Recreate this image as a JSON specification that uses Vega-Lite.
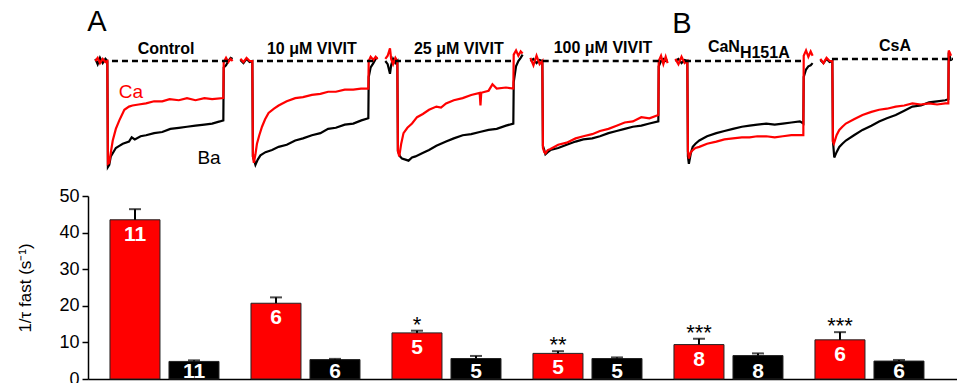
{
"$schema":"https://vega.github.io/schema/vega-lite/v6.json",
"padding":{"left":16,"top":0,"right":0,"bottom":0},
"background":"white",
"config":{"view":{"stroke":null},"font":"Liberation Sans","axisY":{"labelOverlap":false,"values":[0,10,20,30,40,50],"grid":false,"domainColor":"black","domainWidth":1.5,"tickColor":"black","tickWidth":1.5,"tickSize":6,"labelFontSize":18,"labelColor":"black","labelPadding":3,"titleFontSize":17,"titleFontWeight":"normal","titleColor":"black","titlePadding":24}},
"spacing":15,
"datasets":{
"tr":[
{"p":1,"i":"Ba","t":-32,"v":0.02},{"p":1,"i":"Ba","t":-26,"v":-0.03},{"p":1,"i":"Ba","t":-20,"v":0.03},{"p":1,"i":"Ba","t":-13,"v":-0.02},{"p":1,"i":"Ba","t":-6,"v":0.02},{"p":1,"i":"Ba","t":-1,"v":0},{"p":1,"i":"Ba","t":0.5,"v":-1.0},{"p":1,"i":"Ba","t":4,"v":-0.98},{"p":1,"i":"Ba","t":8,"v":-0.9},{"p":1,"i":"Ba","t":13,"v":-0.87},{"p":1,"i":"Ba","t":21,"v":-0.82},{"p":1,"i":"Ba","t":30,"v":-0.8},{"p":1,"i":"Ba","t":39,"v":-0.78},{"p":1,"i":"Ba","t":55,"v":-0.76},{"p":1,"i":"Ba","t":62,"v":-0.72},{"p":1,"i":"Ba","t":70,"v":-0.74},{"p":1,"i":"Ba","t":85,"v":-0.71},{"p":1,"i":"Ba","t":99,"v":-0.7},{"p":1,"i":"Ba","t":120,"v":-0.68},{"p":1,"i":"Ba","t":141,"v":-0.67},{"p":1,"i":"Ba","t":162,"v":-0.64},{"p":1,"i":"Ba","t":184,"v":-0.63},{"p":1,"i":"Ba","t":205,"v":-0.62},{"p":1,"i":"Ba","t":227,"v":-0.61},{"p":1,"i":"Ba","t":250,"v":-0.6},{"p":1,"i":"Ba","t":270,"v":-0.59},{"p":1,"i":"Ba","t":290,"v":-0.57},{"p":1,"i":"Ba","t":299,"v":-0.56},{"p":1,"i":"Ba","t":300,"v":-0.06},{"p":1,"i":"Ba","t":306,"v":-0.04},{"p":1,"i":"Ba","t":312,"v":0.0},{"p":1,"i":"Ba","t":318,"v":0.03},{"p":1,"i":"Ba","t":323,"v":0.02},
{"p":1,"i":"Ca","t":-32,"v":0.0},{"p":1,"i":"Ca","t":-26,"v":0.03},{"p":1,"i":"Ca","t":-20,"v":-0.02},{"p":1,"i":"Ca","t":-13,"v":0.02},{"p":1,"i":"Ca","t":-6,"v":-0.01},{"p":1,"i":"Ca","t":-1,"v":0},{"p":1,"i":"Ca","t":0.5,"v":-0.97},{"p":1,"i":"Ca","t":4,"v":-0.96},{"p":1,"i":"Ca","t":9,"v":-0.84},{"p":1,"i":"Ca","t":13,"v":-0.75},{"p":1,"i":"Ca","t":21,"v":-0.64},{"p":1,"i":"Ca","t":30,"v":-0.56},{"p":1,"i":"Ca","t":43,"v":-0.46},{"p":1,"i":"Ca","t":55,"v":-0.43},{"p":1,"i":"Ca","t":64,"v":-0.42},{"p":1,"i":"Ca","t":80,"v":-0.41},{"p":1,"i":"Ca","t":99,"v":-0.4},{"p":1,"i":"Ca","t":120,"v":-0.38},{"p":1,"i":"Ca","t":141,"v":-0.38},{"p":1,"i":"Ca","t":160,"v":-0.36},{"p":1,"i":"Ca","t":184,"v":-0.37},{"p":1,"i":"Ca","t":205,"v":-0.35},{"p":1,"i":"Ca","t":227,"v":-0.37},{"p":1,"i":"Ca","t":250,"v":-0.35},{"p":1,"i":"Ca","t":270,"v":-0.36},{"p":1,"i":"Ca","t":299,"v":-0.35},{"p":1,"i":"Ca","t":300,"v":-0.01},{"p":1,"i":"Ca","t":306,"v":0.03},{"p":1,"i":"Ca","t":312,"v":-0.01},{"p":1,"i":"Ca","t":318,"v":0.02},{"p":1,"i":"Ca","t":323,"v":0.0},
{"p":2,"i":"Ba","t":-32,"v":0.01},{"p":2,"i":"Ba","t":-24,"v":-0.02},{"p":2,"i":"Ba","t":-16,"v":0.02},{"p":2,"i":"Ba","t":-8,"v":-0.01},{"p":2,"i":"Ba","t":-1,"v":0},{"p":2,"i":"Ba","t":0.5,"v":-0.9},{"p":2,"i":"Ba","t":7,"v":-0.98},{"p":2,"i":"Ba","t":13,"v":-0.93},{"p":2,"i":"Ba","t":20,"v":-0.89},{"p":2,"i":"Ba","t":33,"v":-0.86},{"p":2,"i":"Ba","t":50,"v":-0.84},{"p":2,"i":"Ba","t":67,"v":-0.81},{"p":2,"i":"Ba","t":88,"v":-0.79},{"p":2,"i":"Ba","t":110,"v":-0.75},{"p":2,"i":"Ba","t":130,"v":-0.73},{"p":2,"i":"Ba","t":153,"v":-0.7},{"p":2,"i":"Ba","t":175,"v":-0.68},{"p":2,"i":"Ba","t":195,"v":-0.64},{"p":2,"i":"Ba","t":215,"v":-0.63},{"p":2,"i":"Ba","t":238,"v":-0.6},{"p":2,"i":"Ba","t":260,"v":-0.59},{"p":2,"i":"Ba","t":281,"v":-0.56},{"p":2,"i":"Ba","t":299,"v":-0.54},{"p":2,"i":"Ba","t":300,"v":-0.15},{"p":2,"i":"Ba","t":305,"v":-0.06},{"p":2,"i":"Ba","t":312,"v":-0.02},{"p":2,"i":"Ba","t":318,"v":0.02},{"p":2,"i":"Ba","t":323,"v":0.03},
{"p":2,"i":"Ca","t":-32,"v":0.02},{"p":2,"i":"Ca","t":-24,"v":-0.01},{"p":2,"i":"Ca","t":-16,"v":0.03},{"p":2,"i":"Ca","t":-8,"v":0.0},{"p":2,"i":"Ca","t":-1,"v":0},{"p":2,"i":"Ca","t":0.5,"v":-0.9},{"p":2,"i":"Ca","t":3,"v":-0.96},{"p":2,"i":"Ca","t":7,"v":-0.88},{"p":2,"i":"Ca","t":11,"v":-0.78},{"p":2,"i":"Ca","t":17,"v":-0.7},{"p":2,"i":"Ca","t":24,"v":-0.62},{"p":2,"i":"Ca","t":32,"v":-0.55},{"p":2,"i":"Ca","t":41,"v":-0.49},{"p":2,"i":"Ca","t":55,"v":-0.45},{"p":2,"i":"Ca","t":67,"v":-0.42},{"p":2,"i":"Ca","t":88,"v":-0.38},{"p":2,"i":"Ca","t":110,"v":-0.35},{"p":2,"i":"Ca","t":130,"v":-0.34},{"p":2,"i":"Ca","t":153,"v":-0.32},{"p":2,"i":"Ca","t":175,"v":-0.31},{"p":2,"i":"Ca","t":195,"v":-0.29},{"p":2,"i":"Ca","t":215,"v":-0.29},{"p":2,"i":"Ca","t":238,"v":-0.27},{"p":2,"i":"Ca","t":260,"v":-0.27},{"p":2,"i":"Ca","t":280,"v":-0.26},{"p":2,"i":"Ca","t":299,"v":-0.26},{"p":2,"i":"Ca","t":300,"v":0.0},{"p":2,"i":"Ca","t":305,"v":0.04},{"p":2,"i":"Ca","t":312,"v":0.01},{"p":2,"i":"Ca","t":318,"v":0.04},{"p":2,"i":"Ca","t":323,"v":0.02},
{"p":3,"i":"Ba","t":-32,"v":0.0},{"p":3,"i":"Ba","t":-26,"v":-0.03},{"p":3,"i":"Ba","t":-20,"v":-0.12},{"p":3,"i":"Ba","t":-17,"v":-0.04},{"p":3,"i":"Ba","t":-12,"v":0.02},{"p":3,"i":"Ba","t":-6,"v":-0.02},{"p":3,"i":"Ba","t":-1,"v":0},{"p":3,"i":"Ba","t":0.5,"v":-0.85},{"p":3,"i":"Ba","t":6,"v":-0.9},{"p":3,"i":"Ba","t":11,"v":-0.92},{"p":3,"i":"Ba","t":20,"v":-0.93},{"p":3,"i":"Ba","t":28,"v":-0.94},{"p":3,"i":"Ba","t":37,"v":-0.91},{"p":3,"i":"Ba","t":46,"v":-0.9},{"p":3,"i":"Ba","t":63,"v":-0.87},{"p":3,"i":"Ba","t":81,"v":-0.84},{"p":3,"i":"Ba","t":100,"v":-0.8},{"p":3,"i":"Ba","t":125,"v":-0.76},{"p":3,"i":"Ba","t":145,"v":-0.73},{"p":3,"i":"Ba","t":168,"v":-0.7},{"p":3,"i":"Ba","t":190,"v":-0.69},{"p":3,"i":"Ba","t":212,"v":-0.67},{"p":3,"i":"Ba","t":235,"v":-0.65},{"p":3,"i":"Ba","t":256,"v":-0.64},{"p":3,"i":"Ba","t":280,"v":-0.61},{"p":3,"i":"Ba","t":299,"v":-0.59},{"p":3,"i":"Ba","t":300,"v":-0.2},{"p":3,"i":"Ba","t":306,"v":-0.05},{"p":3,"i":"Ba","t":312,"v":0.0},{"p":3,"i":"Ba","t":318,"v":0.03},{"p":3,"i":"Ba","t":323,"v":0.06},
{"p":3,"i":"Ca","t":-32,"v":0.02},{"p":3,"i":"Ca","t":-26,"v":0.05},{"p":3,"i":"Ca","t":-20,"v":0.12},{"p":3,"i":"Ca","t":-17,"v":0.02},{"p":3,"i":"Ca","t":-12,"v":-0.03},{"p":3,"i":"Ca","t":-6,"v":0.03},{"p":3,"i":"Ca","t":-1,"v":0},{"p":3,"i":"Ca","t":0.5,"v":-0.85},{"p":3,"i":"Ca","t":4,"v":-0.9},{"p":3,"i":"Ca","t":9,"v":-0.78},{"p":3,"i":"Ca","t":15,"v":-0.68},{"p":3,"i":"Ca","t":25,"v":-0.63},{"p":3,"i":"Ca","t":37,"v":-0.59},{"p":3,"i":"Ca","t":50,"v":-0.53},{"p":3,"i":"Ca","t":65,"v":-0.5},{"p":3,"i":"Ca","t":81,"v":-0.46},{"p":3,"i":"Ca","t":100,"v":-0.43},{"p":3,"i":"Ca","t":112,"v":-0.44},{"p":3,"i":"Ca","t":125,"v":-0.4},{"p":3,"i":"Ca","t":145,"v":-0.37},{"p":3,"i":"Ca","t":168,"v":-0.35},{"p":3,"i":"Ca","t":190,"v":-0.32},{"p":3,"i":"Ca","t":212,"v":-0.3},{"p":3,"i":"Ca","t":214,"v":-0.42},{"p":3,"i":"Ca","t":216,"v":-0.3},{"p":3,"i":"Ca","t":235,"v":-0.28},{"p":3,"i":"Ca","t":245,"v":-0.22},{"p":3,"i":"Ca","t":256,"v":-0.26},{"p":3,"i":"Ca","t":280,"v":-0.25},{"p":3,"i":"Ca","t":299,"v":-0.26},{"p":3,"i":"Ca","t":300,"v":0.06},{"p":3,"i":"Ca","t":306,"v":0.1},{"p":3,"i":"Ca","t":312,"v":0.05},{"p":3,"i":"Ca","t":318,"v":0.09},{"p":3,"i":"Ca","t":323,"v":0.07},
{"p":4,"i":"Ba","t":-32,"v":0.0},{"p":4,"i":"Ba","t":-24,"v":0.02},{"p":4,"i":"Ba","t":-16,"v":-0.02},{"p":4,"i":"Ba","t":-8,"v":0.01},{"p":4,"i":"Ba","t":-1,"v":0},{"p":4,"i":"Ba","t":0.5,"v":-0.8},{"p":4,"i":"Ba","t":4,"v":-0.84},{"p":4,"i":"Ba","t":7,"v":-0.88},{"p":4,"i":"Ba","t":13,"v":-0.86},{"p":4,"i":"Ba","t":20,"v":-0.84},{"p":4,"i":"Ba","t":40,"v":-0.82},{"p":4,"i":"Ba","t":62,"v":-0.79},{"p":4,"i":"Ba","t":85,"v":-0.76},{"p":4,"i":"Ba","t":105,"v":-0.74},{"p":4,"i":"Ba","t":128,"v":-0.73},{"p":4,"i":"Ba","t":148,"v":-0.71},{"p":4,"i":"Ba","t":170,"v":-0.68},{"p":4,"i":"Ba","t":191,"v":-0.66},{"p":4,"i":"Ba","t":212,"v":-0.64},{"p":4,"i":"Ba","t":233,"v":-0.62},{"p":4,"i":"Ba","t":255,"v":-0.61},{"p":4,"i":"Ba","t":276,"v":-0.59},{"p":4,"i":"Ba","t":299,"v":-0.57},{"p":4,"i":"Ba","t":300,"v":-0.05},{"p":4,"i":"Ba","t":306,"v":0.0},{"p":4,"i":"Ba","t":312,"v":0.02},{"p":4,"i":"Ba","t":318,"v":0.0},{"p":4,"i":"Ba","t":323,"v":0.01},
{"p":4,"i":"Ca","t":-32,"v":0.03},{"p":4,"i":"Ca","t":-24,"v":-0.04},{"p":4,"i":"Ca","t":-16,"v":0.05},{"p":4,"i":"Ca","t":-8,"v":-0.03},{"p":4,"i":"Ca","t":-1,"v":0},{"p":4,"i":"Ca","t":0.5,"v":-0.82},{"p":4,"i":"Ca","t":4,"v":-0.86},{"p":4,"i":"Ca","t":7,"v":-0.87},{"p":4,"i":"Ca","t":13,"v":-0.84},{"p":4,"i":"Ca","t":20,"v":-0.83},{"p":4,"i":"Ca","t":40,"v":-0.79},{"p":4,"i":"Ca","t":62,"v":-0.77},{"p":4,"i":"Ca","t":85,"v":-0.73},{"p":4,"i":"Ca","t":105,"v":-0.71},{"p":4,"i":"Ca","t":128,"v":-0.69},{"p":4,"i":"Ca","t":148,"v":-0.66},{"p":4,"i":"Ca","t":170,"v":-0.64},{"p":4,"i":"Ca","t":191,"v":-0.61},{"p":4,"i":"Ca","t":212,"v":-0.58},{"p":4,"i":"Ca","t":233,"v":-0.57},{"p":4,"i":"Ca","t":255,"v":-0.53},{"p":4,"i":"Ca","t":276,"v":-0.54},{"p":4,"i":"Ca","t":299,"v":-0.51},{"p":4,"i":"Ca","t":300,"v":0.0},{"p":4,"i":"Ca","t":306,"v":0.05},{"p":4,"i":"Ca","t":312,"v":-0.03},{"p":4,"i":"Ca","t":318,"v":0.04},{"p":4,"i":"Ca","t":323,"v":-0.02},
{"p":5,"i":"Ba","t":-32,"v":0.0},{"p":5,"i":"Ba","t":-24,"v":0.02},{"p":5,"i":"Ba","t":-16,"v":-0.02},{"p":5,"i":"Ba","t":-8,"v":0.01},{"p":5,"i":"Ba","t":-1,"v":0},{"p":5,"i":"Ba","t":0.5,"v":-0.9},{"p":5,"i":"Ba","t":3,"v":-0.97},{"p":5,"i":"Ba","t":8,"v":-0.87},{"p":5,"i":"Ba","t":13,"v":-0.81},{"p":5,"i":"Ba","t":20,"v":-0.78},{"p":5,"i":"Ba","t":30,"v":-0.75},{"p":5,"i":"Ba","t":50,"v":-0.71},{"p":5,"i":"Ba","t":74,"v":-0.68},{"p":5,"i":"Ba","t":95,"v":-0.66},{"p":5,"i":"Ba","t":117,"v":-0.64},{"p":5,"i":"Ba","t":140,"v":-0.62},{"p":5,"i":"Ba","t":160,"v":-0.61},{"p":5,"i":"Ba","t":180,"v":-0.6},{"p":5,"i":"Ba","t":203,"v":-0.59},{"p":5,"i":"Ba","t":225,"v":-0.6},{"p":5,"i":"Ba","t":246,"v":-0.59},{"p":5,"i":"Ba","t":268,"v":-0.58},{"p":5,"i":"Ba","t":290,"v":-0.57},{"p":5,"i":"Ba","t":299,"v":-0.59},{"p":5,"i":"Ba","t":300,"v":-0.15},{"p":5,"i":"Ba","t":306,"v":-0.08},{"p":5,"i":"Ba","t":312,"v":-0.05},{"p":5,"i":"Ba","t":318,"v":-0.04},{"p":5,"i":"Ba","t":323,"v":-0.02},
{"p":5,"i":"Ca","t":-32,"v":0.02},{"p":5,"i":"Ca","t":-24,"v":-0.03},{"p":5,"i":"Ca","t":-16,"v":0.04},{"p":5,"i":"Ca","t":-8,"v":-0.02},{"p":5,"i":"Ca","t":-1,"v":0},{"p":5,"i":"Ca","t":0.5,"v":-0.85},{"p":5,"i":"Ca","t":3,"v":-0.92},{"p":5,"i":"Ca","t":8,"v":-0.86},{"p":5,"i":"Ca","t":13,"v":-0.84},{"p":5,"i":"Ca","t":20,"v":-0.82},{"p":5,"i":"Ca","t":30,"v":-0.81},{"p":5,"i":"Ca","t":50,"v":-0.78},{"p":5,"i":"Ca","t":74,"v":-0.76},{"p":5,"i":"Ca","t":95,"v":-0.74},{"p":5,"i":"Ca","t":117,"v":-0.73},{"p":5,"i":"Ca","t":140,"v":-0.72},{"p":5,"i":"Ca","t":160,"v":-0.72},{"p":5,"i":"Ca","t":180,"v":-0.71},{"p":5,"i":"Ca","t":203,"v":-0.71},{"p":5,"i":"Ca","t":225,"v":-0.72},{"p":5,"i":"Ca","t":246,"v":-0.71},{"p":5,"i":"Ca","t":268,"v":-0.7},{"p":5,"i":"Ca","t":290,"v":-0.7},{"p":5,"i":"Ca","t":299,"v":-0.7},{"p":5,"i":"Ca","t":300,"v":0.05},{"p":5,"i":"Ca","t":306,"v":0.1},{"p":5,"i":"Ca","t":312,"v":0.04},{"p":5,"i":"Ca","t":318,"v":0.09},{"p":5,"i":"Ca","t":323,"v":0.05},
{"p":6,"i":"Ba","t":-32,"v":0.01},{"p":6,"i":"Ba","t":-24,"v":-0.02},{"p":6,"i":"Ba","t":-16,"v":0.02},{"p":6,"i":"Ba","t":-8,"v":-0.01},{"p":6,"i":"Ba","t":-1,"v":0},{"p":6,"i":"Ba","t":0.5,"v":-0.75},{"p":6,"i":"Ba","t":4,"v":-0.91},{"p":6,"i":"Ba","t":10,"v":-0.86},{"p":6,"i":"Ba","t":17,"v":-0.81},{"p":6,"i":"Ba","t":25,"v":-0.78},{"p":6,"i":"Ba","t":34,"v":-0.75},{"p":6,"i":"Ba","t":55,"v":-0.7},{"p":6,"i":"Ba","t":77,"v":-0.65},{"p":6,"i":"Ba","t":100,"v":-0.61},{"p":6,"i":"Ba","t":120,"v":-0.57},{"p":6,"i":"Ba","t":140,"v":-0.54},{"p":6,"i":"Ba","t":163,"v":-0.51},{"p":6,"i":"Ba","t":185,"v":-0.47},{"p":6,"i":"Ba","t":206,"v":-0.43},{"p":6,"i":"Ba","t":228,"v":-0.42},{"p":6,"i":"Ba","t":249,"v":-0.39},{"p":6,"i":"Ba","t":270,"v":-0.38},{"p":6,"i":"Ba","t":291,"v":-0.37},{"p":6,"i":"Ba","t":299,"v":-0.36},{"p":6,"i":"Ba","t":300,"v":0.08},{"p":6,"i":"Ba","t":306,"v":0.0},
{"p":6,"i":"Ca","t":-32,"v":0.02},{"p":6,"i":"Ca","t":-24,"v":-0.02},{"p":6,"i":"Ca","t":-16,"v":0.03},{"p":6,"i":"Ca","t":-8,"v":0.0},{"p":6,"i":"Ca","t":-1,"v":0},{"p":6,"i":"Ca","t":0.5,"v":-0.76},{"p":6,"i":"Ca","t":3,"v":-0.78},{"p":6,"i":"Ca","t":10,"v":-0.7},{"p":6,"i":"Ca","t":17,"v":-0.65},{"p":6,"i":"Ca","t":25,"v":-0.62},{"p":6,"i":"Ca","t":34,"v":-0.59},{"p":6,"i":"Ca","t":55,"v":-0.55},{"p":6,"i":"Ca","t":77,"v":-0.51},{"p":6,"i":"Ca","t":100,"v":-0.48},{"p":6,"i":"Ca","t":120,"v":-0.46},{"p":6,"i":"Ca","t":140,"v":-0.45},{"p":6,"i":"Ca","t":163,"v":-0.43},{"p":6,"i":"Ca","t":185,"v":-0.42},{"p":6,"i":"Ca","t":206,"v":-0.4},{"p":6,"i":"Ca","t":228,"v":-0.41},{"p":6,"i":"Ca","t":249,"v":-0.4},{"p":6,"i":"Ca","t":270,"v":-0.41},{"p":6,"i":"Ca","t":291,"v":-0.4},{"p":6,"i":"Ca","t":299,"v":-0.4},{"p":6,"i":"Ca","t":300,"v":0.1},{"p":6,"i":"Ca","t":306,"v":0.05}
],
"bars":[
{"cond":"Control","ion":"Ca","v":43.5,"hi":46.4,"n":"11","sig":""},
{"cond":"Control","ion":"Ba","v":4.8,"hi":5.1,"n":"11","sig":""},
{"cond":"10 μM VIVIT","ion":"Ca","v":20.7,"hi":22.3,"n":"6","sig":""},
{"cond":"10 μM VIVIT","ion":"Ba","v":5.3,"hi":5.5,"n":"6","sig":""},
{"cond":"25 μM VIVIT","ion":"Ca","v":12.6,"hi":13.2,"n":"5","sig":"*"},
{"cond":"25 μM VIVIT","ion":"Ba","v":5.6,"hi":6.3,"n":"5","sig":""},
{"cond":"100 μM VIVIT","ion":"Ca","v":7.0,"hi":7.6,"n":"5","sig":"**"},
{"cond":"100 μM VIVIT","ion":"Ba","v":5.6,"hi":5.9,"n":"5","sig":""},
{"cond":"CaN H151A","ion":"Ca","v":9.4,"hi":11.0,"n":"8","sig":"***"},
{"cond":"CaN H151A","ion":"Ba","v":6.4,"hi":7.0,"n":"8","sig":""},
{"cond":"CsA","ion":"Ca","v":10.7,"hi":12.8,"n":"6","sig":"***"},
{"cond":"CsA","ion":"Ba","v":4.9,"hi":5.2,"n":"6","sig":""}
]
},
"vconcat":[
{"spacing":0,"bounds":"flush","hconcat":[
{"width":145,"height":172,"layer":[
 {"data":{"name":"tr"},"transform":[{"filter":"datum.p==1"}],"mark":{"type":"line","strokeWidth":2.2},"encoding":{"x":{"field":"t","type":"quantitative","scale":{"domain":[-51,324],"nice":false,"zero":false},"axis":null},"y":{"field":"v","type":"quantitative","scale":{"domain":[-1.047,0.5755],"nice":false,"zero":false},"axis":null},"color":{"field":"i","type":"nominal","scale":{"domain":["Ca","Ba"],"range":["#ff0000","#000000"]},"legend":null}}},
 {"data":{"values":[{}]},"mark":{"type":"rule","strokeDash":[6,4],"strokeWidth":2.5,"color":"black"},"encoding":{"x":{"datum":11},"x2":{"datum":311},"y":{"datum":0}}},
 {"data":{"values":[{}]},"mark":{"type":"text","fontWeight":"bold","fontSize":16,"baseline":"middle"},"encoding":{"x":{"datum":151},"y":{"datum":0.113},"text":{"value":"Control"}}},
 {"data":{"values":[{}]},"mark":{"type":"text","fontSize":29,"baseline":"middle"},"encoding":{"x":{"datum":-28},"y":{"datum":0.368},"text":{"value":"A"}}},
 {"data":{"values":[{}]},"mark":{"type":"text","fontSize":19,"baseline":"middle","color":"#ff0000"},"encoding":{"x":{"datum":60},"y":{"datum":-0.29},"text":{"value":"Ca"}}},
 {"data":{"values":[{}]},"mark":{"type":"text","fontSize":19,"baseline":"middle","color":"black"},"encoding":{"x":{"datum":262},"y":{"datum":-0.915},"text":{"value":"Ba"}}}
]},
{"width":145,"height":172,"layer":[
 {"data":{"name":"tr"},"transform":[{"filter":"datum.p==2"}],"mark":{"type":"line","strokeWidth":2.2},"encoding":{"x":{"field":"t","type":"quantitative","scale":{"domain":[-51,324],"nice":false,"zero":false},"axis":null},"y":{"field":"v","type":"quantitative","scale":{"domain":[-1.047,0.5755],"nice":false,"zero":false},"axis":null},"color":{"field":"i","type":"nominal","scale":{"domain":["Ca","Ba"],"range":["#ff0000","#000000"]},"legend":null}}},
 {"data":{"values":[{}]},"mark":{"type":"rule","strokeDash":[6,4],"strokeWidth":2.5,"color":"black"},"encoding":{"x":{"datum":11},"x2":{"datum":311},"y":{"datum":0}}},
 {"data":{"values":[{}]},"mark":{"type":"text","fontWeight":"bold","fontSize":16,"baseline":"middle"},"encoding":{"x":{"datum":153},"y":{"datum":0.113},"text":{"value":"10 μM VIVIT"}}}
]},
{"width":145,"height":172,"layer":[
 {"data":{"name":"tr"},"transform":[{"filter":"datum.p==3"}],"mark":{"type":"line","strokeWidth":2.2},"encoding":{"x":{"field":"t","type":"quantitative","scale":{"domain":[-51,324],"nice":false,"zero":false},"axis":null},"y":{"field":"v","type":"quantitative","scale":{"domain":[-1.047,0.5755],"nice":false,"zero":false},"axis":null},"color":{"field":"i","type":"nominal","scale":{"domain":["Ca","Ba"],"range":["#ff0000","#000000"]},"legend":null}}},
 {"data":{"values":[{}]},"mark":{"type":"rule","strokeDash":[6,4],"strokeWidth":2.5,"color":"black"},"encoding":{"x":{"datum":-7},"x2":{"datum":300},"y":{"datum":0}}},
 {"data":{"values":[{}]},"mark":{"type":"text","fontWeight":"bold","fontSize":16,"baseline":"middle"},"encoding":{"x":{"datum":158},"y":{"datum":0.113},"text":{"value":"25 μM VIVIT"}}}
]},
{"width":145,"height":172,"layer":[
 {"data":{"name":"tr"},"transform":[{"filter":"datum.p==4"}],"mark":{"type":"line","strokeWidth":2.2},"encoding":{"x":{"field":"t","type":"quantitative","scale":{"domain":[-51,324],"nice":false,"zero":false},"axis":null},"y":{"field":"v","type":"quantitative","scale":{"domain":[-1.047,0.5755],"nice":false,"zero":false},"axis":null},"color":{"field":"i","type":"nominal","scale":{"domain":["Ca","Ba"],"range":["#ff0000","#000000"]},"legend":null}}},
 {"data":{"values":[{}]},"mark":{"type":"rule","strokeDash":[6,4],"strokeWidth":2.5,"color":"black"},"encoding":{"x":{"datum":0},"x2":{"datum":303},"y":{"datum":0}}},
 {"data":{"values":[{}]},"mark":{"type":"text","fontWeight":"bold","fontSize":16,"baseline":"middle"},"encoding":{"x":{"datum":156},"y":{"datum":0.118},"text":{"value":"100 μM VIVIT"}}}
]},
{"width":145,"height":172,"layer":[
 {"data":{"name":"tr"},"transform":[{"filter":"datum.p==5"}],"mark":{"type":"line","strokeWidth":2.2},"encoding":{"x":{"field":"t","type":"quantitative","scale":{"domain":[-51,324],"nice":false,"zero":false},"axis":null},"y":{"field":"v","type":"quantitative","scale":{"domain":[-1.047,0.5755],"nice":false,"zero":false},"axis":null},"color":{"field":"i","type":"nominal","scale":{"domain":["Ca","Ba"],"range":["#ff0000","#000000"]},"legend":null}}},
 {"data":{"values":[{}]},"mark":{"type":"rule","strokeDash":[6,4],"strokeWidth":2.5,"color":"black"},"encoding":{"x":{"datum":-7},"x2":{"datum":303},"y":{"datum":0}}},
 {"data":{"values":[{}]},"mark":{"type":"text","fontWeight":"bold","fontSize":16,"baseline":"middle","align":"right"},"encoding":{"x":{"datum":135},"y":{"datum":0.135},"text":{"value":"CaN"}}},
 {"data":{"values":[{}]},"mark":{"type":"text","fontWeight":"bold","fontSize":16,"baseline":"middle","align":"left"},"encoding":{"x":{"datum":135},"y":{"datum":0.075},"text":{"value":"H151A"}}},
 {"data":{"values":[{}]},"mark":{"type":"text","fontSize":29,"baseline":"middle"},"encoding":{"x":{"datum":-15},"y":{"datum":0.35},"text":{"value":"B"}}}
]},
{"width":145,"height":172,"layer":[
 {"data":{"name":"tr"},"transform":[{"filter":"datum.p==6"}],"mark":{"type":"line","strokeWidth":2.2},"encoding":{"x":{"field":"t","type":"quantitative","scale":{"domain":[-51,324],"nice":false,"zero":false},"axis":null},"y":{"field":"v","type":"quantitative","scale":{"domain":[-1.047,0.5755],"nice":false,"zero":false},"axis":null},"color":{"field":"i","type":"nominal","scale":{"domain":["Ca","Ba"],"range":["#ff0000","#000000"]},"legend":null}}},
 {"data":{"values":[{}]},"mark":{"type":"rule","strokeDash":[6,4],"strokeWidth":2.5,"color":"black"},"encoding":{"x":{"datum":-2},"x2":{"datum":311},"y":{"datum":0.02}}},
 {"data":{"values":[{}]},"mark":{"type":"text","fontWeight":"bold","fontSize":16,"baseline":"middle"},"encoding":{"x":{"datum":161},"y":{"datum":0.14},"text":{"value":"CsA"}}}
]}
]},
{"width":869,"height":183,
 "data":{"name":"bars"},
 "encoding":{
  "x":{"field":"cond","type":"nominal","sort":null,"scale":{"paddingInner":0,"paddingOuter":0.0816,"align":0.26},"axis":{"title":null,"labels":false,"ticks":false,"domainColor":"black","domainWidth":1.5}},
  "xOffset":{"field":"ion","type":"nominal","sort":["Ca","Ba"],"scale":{"paddingInner":0.1525,"paddingOuter":0.271}}
 },
 "layer":[
  {"mark":{"type":"bar","stroke":"#222222","strokeWidth":1},"encoding":{"y":{"field":"v","type":"quantitative","scale":{"domain":[0,50],"nice":false},"title":"1/τ fast (s⁻¹)"},"color":{"field":"ion","type":"nominal","scale":{"domain":["Ca","Ba"],"range":["#ec0000","#000000"]},"legend":null}}},
  {"mark":{"type":"rule","color":"black","strokeWidth":2},"encoding":{"y":{"field":"v","type":"quantitative"},"y2":{"field":"hi"}}},
  {"mark":{"type":"tick","color":"black","thickness":2,"size":12},"encoding":{"y":{"field":"hi","type":"quantitative"}}},
  {"transform":[{"filter":"datum.ion=='Ca'"}],"mark":{"type":"text","color":"white","fontWeight":"bold","fontSize":21,"baseline":"middle","dy":15},"encoding":{"y":{"field":"v","type":"quantitative"},"text":{"field":"n"}}},
  {"transform":[{"filter":"datum.ion=='Ba'"}],"mark":{"type":"text","color":"white","fontWeight":"bold","fontSize":21,"baseline":"middle"},"encoding":{"y":{"datum":2}, "text":{"field":"n"}}},
  {"transform":[{"filter":"datum.sig!=''"}],"mark":{"type":"text","color":"black","fontSize":22,"baseline":"alphabetic","dy":1},"encoding":{"y":{"field":"hi","type":"quantitative"},"text":{"field":"sig"}}}
 ]}
]
}
